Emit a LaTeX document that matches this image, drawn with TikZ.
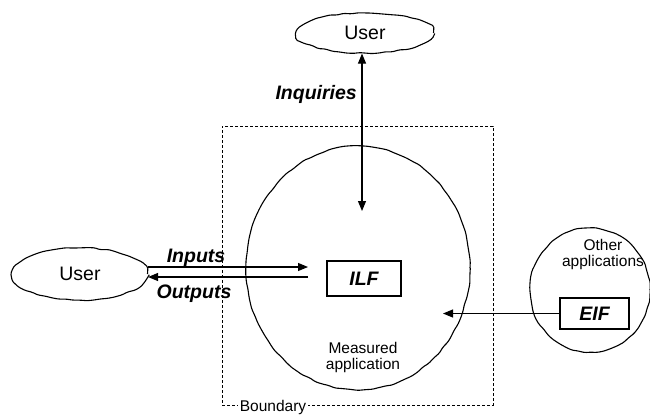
\documentclass[tikz,border=0pt]{standalone}
\usepackage{fontspec}
\setmainfont{Liberation Sans}
\usetikzlibrary{shapes.geometric, arrows.meta, decorations.pathmorphing, calc}
\begin{document}
\begin{tikzpicture}[x=1pt,y=-1pt,
  wob/.style={draw, line width=1.1pt, decorate, decoration={random steps, segment length=7pt, amplitude=0.7pt}, rounded corners=1.5pt},
  oval/.style={ellipse, wob, inner sep=0pt},
  big/.style={font=\fontsize{19.5}{22}\selectfont\bfseries\itshape, inner sep=0pt},
  lab/.style={font=\fontsize{19.5}{22}\selectfont},
  small/.style={font=\fontsize{15.5}{16}\selectfont, align=center, inner sep=0pt},
  fbox/.style={draw, line width=1.1pt, minimum width=74pt, minimum height=35pt, inner sep=0pt, font=\fontsize{19.5}{22}\selectfont\bfseries\itshape},
  arr/.style={line width=1.1pt, -{Triangle[length=10pt,width=8pt]}},
  darr/.style={line width=1.1pt, {Triangle[length=10pt,width=8pt]}-{Triangle[length=10pt,width=8pt]}},
  bound/.style={draw, line width=0.9pt, dash pattern=on 3pt off 2pt, inner sep=0pt},
  ]
\useasboundingbox (0,0) rectangle (650,415);
\node[bound, minimum width=271pt, minimum height=279pt] (bnd) at (357.5,265.5) {};
\node[small, anchor=base, fill=white, inner xsep=2pt, inner ysep=1pt] (btext) at (273,411) {Boundary};

\node[oval, minimum width=137pt, minimum height=40pt, lab] (userT) at (365,33) {User};
\node[oval, minimum width=135pt, minimum height=52pt, lab] (userL) at (80,274) {User};
\node[oval, minimum width=224pt, minimum height=244pt] (meas) at (358,268) {};
\node[oval, minimum width=120pt, minimum height=124pt] (other) at (590,290) {};

\node[fbox] (ilf) at (364,278.5) {ILF};
\node[fbox, minimum width=69pt, minimum height=31pt] (eif) at (594.5,313.5) {EIF};

\node[small] (mtext) at (363,357) {Measured\\application};
\node[small] (otext) at (603,254) {Other\\applications};

\coordinate (inqE) at (362,211);
\draw[darr] (inqE) -- (inqE |- userT.south);
\node[big, anchor=east] (inq) at (357,94) {Inquiries};

\coordinate (inE) at (308,267);
\coordinate (outS) at (308,277);
\draw[arr] (userL.east |- inE) -- (inE);
\draw[arr] (outS) -- (userL.east |- outS);
\node[big, anchor=base] (inp) at (196,262) {Inputs};
\node[big, anchor=base] (outp) at (194,298) {Outputs};

\coordinate (eifE) at (443,313.5);
\draw[arr] (eif.west) -- (eifE);
\end{tikzpicture}
\end{document}
